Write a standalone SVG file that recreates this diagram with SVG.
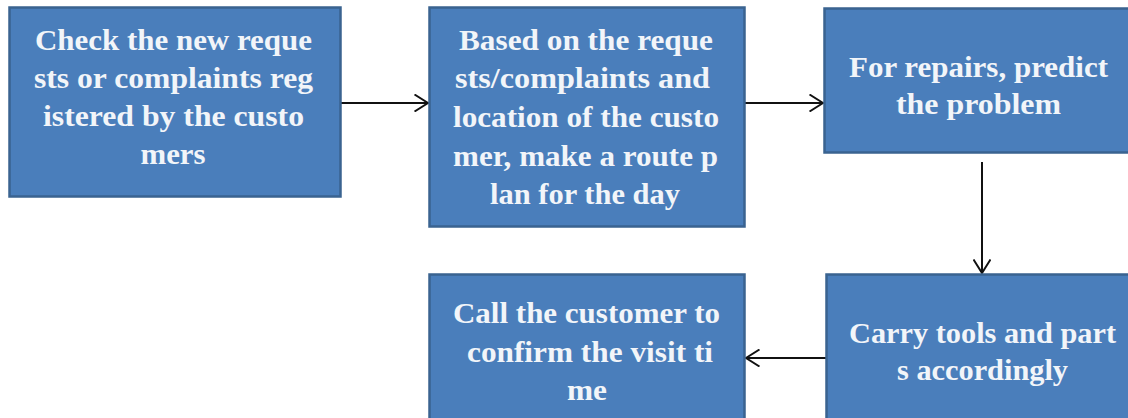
<svg xmlns="http://www.w3.org/2000/svg" width="1128" height="418" viewBox="0 0 1128 418">
<defs>
<style>
.box{fill:#4a7ebb;stroke:#3a6390;stroke-width:2.5}
.t{font-family:"Liberation Serif","Times New Roman",serif;font-weight:bold;font-size:29px;fill:#f2f5f9;text-anchor:middle}
.c{stroke:#111;stroke-width:2;fill:none}
</style>
<marker id="ah" viewBox="0 0 15 18" refX="14" refY="9" markerWidth="15" markerHeight="18" markerUnits="userSpaceOnUse" orient="auto">
<path d="M0.5,0.5 L14,9 L0.5,17.5" fill="none" stroke="#111" stroke-width="2"/>
</marker>
</defs>
<rect width="1128" height="418" fill="#ffffff"/>
<g id="connectors">
<line class="c" x1="341" y1="103" x2="428" y2="103" marker-end="url(#ah)"/>
<line class="c" x1="745" y1="103" x2="823" y2="103" marker-end="url(#ah)"/>
<line class="c" x1="982" y1="162" x2="982" y2="273" marker-end="url(#ah)"/>
<line class="c" x1="826" y1="358" x2="746" y2="358" marker-end="url(#ah)"/>
</g>
<g id="n1">
<rect class="box" x="9.5" y="7.5" width="331" height="189"/>
<text class="t"><tspan x="173.5" y="50" textLength="277" lengthAdjust="spacingAndGlyphs">Check the new reque</tspan><tspan x="173.5" y="88" textLength="279" lengthAdjust="spacingAndGlyphs">sts or complaints reg</tspan><tspan x="173.5" y="126" textLength="261" lengthAdjust="spacingAndGlyphs">istered by the custo</tspan><tspan x="173" y="164" textLength="65" lengthAdjust="spacingAndGlyphs">mers</tspan></text>
</g>
<g id="n2">
<rect class="box" x="429.5" y="7.5" width="315" height="219"/>
<text class="t"><tspan x="586" y="50" textLength="254" lengthAdjust="spacingAndGlyphs">Based on the reque</tspan><tspan x="582.5" y="88" textLength="255" lengthAdjust="spacingAndGlyphs">sts/complaints and</tspan><tspan x="586" y="127" textLength="266" lengthAdjust="spacingAndGlyphs">location of the custo</tspan><tspan x="585.5" y="166" textLength="265" lengthAdjust="spacingAndGlyphs">mer, make a route p</tspan><tspan x="585" y="204" textLength="190" lengthAdjust="spacingAndGlyphs">lan for the day</tspan></text>
</g>
<g id="n3">
<rect class="box" x="824.5" y="8.5" width="310" height="144"/>
<text class="t"><tspan x="978.5" y="77" textLength="259" lengthAdjust="spacingAndGlyphs">For repairs, predict</tspan><tspan x="978.5" y="114" textLength="165" lengthAdjust="spacingAndGlyphs">the problem</tspan></text>
</g>
<g id="n5">
<rect class="box" x="826.5" y="274.5" width="310" height="160"/>
<text class="t"><tspan x="982.5" y="343" textLength="267" lengthAdjust="spacingAndGlyphs">Carry tools and part</tspan><tspan x="982.5" y="380" textLength="171" lengthAdjust="spacingAndGlyphs">s accordingly</tspan></text>
</g>
<g id="n4">
<rect class="box" x="429.5" y="274.5" width="315" height="160"/>
<text class="t"><tspan x="586.5" y="323" textLength="267" lengthAdjust="spacingAndGlyphs">Call the customer to</tspan><tspan x="590" y="362" textLength="246" lengthAdjust="spacingAndGlyphs">confirm the visit ti</tspan><tspan x="587" y="400" textLength="40" lengthAdjust="spacingAndGlyphs">me</tspan></text>
</g>
</svg>
